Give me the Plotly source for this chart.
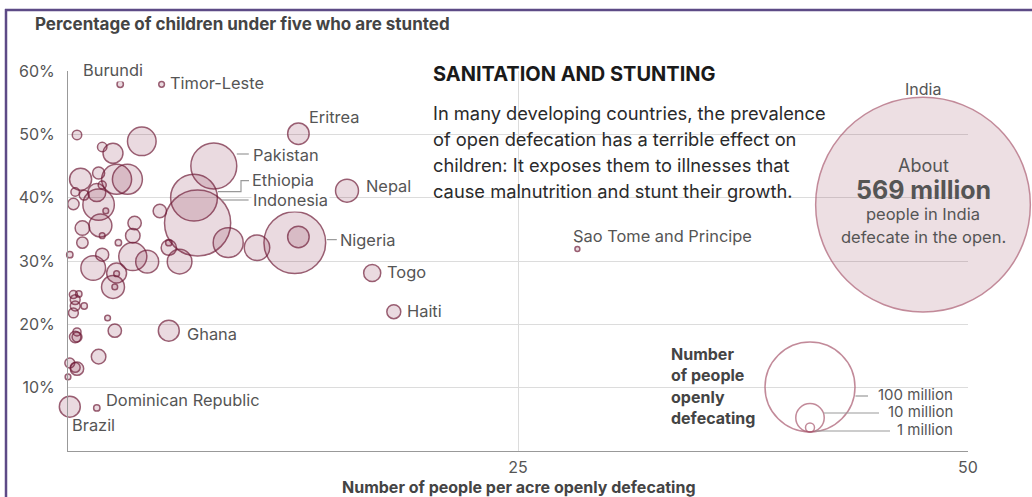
import plotly.graph_objects as go

# ---- data ----
country = ["Burundi", "Timor-Leste", "Eritrea", "Pakistan", "Ethiopia", "Indonesia",
           "Nepal", "Nigeria", "Togo", "Haiti", "Sao Tome and Principe", "Ghana",
           "Dominican Republic", "Brazil", "India",
           "", "", "", "", "", "", "", "", "", "", "", "", "", "", "", "", "", "",
           "", "", "", "", "", "", "", "", "", "", "", "", "", "", "", "", "", "",
           "", "", "", "", "", "", "", "", "", "", "", "", "", "", "", "", "", ""]
per_acre = [2.9, 5.2, 12.8, 8.1, 7.0, 7.2,
            15.5, 12.6, 16.9, 18.1, 28.3, 5.6,
            1.6, 0.1, 47.5,
            12.8, 0.5, 4.1, 1.9, 2.5, 0.7, 1.7, 2.7, 3.3, 1.9, 0.4, 0.9, 0.3,
            1.6, 1.7, 2.1, 5.1, 3.7, 1.8, 0.8, 1.9, 0.8, 3.6, 2.8, 0.1, 1.9,
            3.6, 4.4, 1.4, 2.7, 2.7, 2.5, 2.6, 5.6, 5.6, 6.2, 8.9, 10.5, 0.3,
            0.6, 0.4, 0.4, 0.9, 0.3, 2.2, 2.6, 0.5, 0.4, 0.5, 1.7, 0.1, 0.5,
            0.4, 0.0, 0.1, 0.1, 0.2, 0.1]
stunted = [57.9, 57.9, 50.1, 45.0, 40.0, 36.0,
           41.1, 32.9, 28.1, 22.0, 31.9, 19.0,
           6.8, 7.0, 38.9,
           33.8, 49.9, 48.9, 48.0, 47.0, 42.9, 43.9, 42.9, 42.9, 42.0, 40.9, 40.4, 39.0,
           40.8, 38.9, 37.9, 37.9, 36.0, 35.6, 35.2, 34.0, 32.9, 34.0, 32.9, 31.0, 31.0,
           30.7, 29.9, 28.9, 28.1, 28.0, 25.9, 25.9, 32.9, 32.1, 29.9, 32.9, 32.1, 24.7,
           24.8, 23.9, 22.9, 22.9, 21.8, 21.0, 19.0, 18.8, 18.0, 18.0, 14.9, 13.9, 13.0,
           13.2, 11.7, 10.9, 10.0, 9.1, 7.8]
defecating_m = [0.5, 0.4, 5.7, 26, 27, 54,
                6.5, 47, 3.6, 2.4, 0.3, 5.4,
                0.5, 5.4, 569,
                5.7, 1.1, 10.1, 1.1, 4.9, 6.0, 1.8, 11.1, 11.1, 0.8, 0.9, 1.2, 1.6,
                4.0, 12.2, 0.4, 2.2, 2.2, 6.5, 2.6, 0.4, 1.6, 2.6, 0.5, 0.5, 2.1,
                9.7, 6.5, 7.5, 4.9, 0.4, 6.5, 0.4, 0.5, 2.9, 7.5, 11.1, 8.0, 0.8,
                0.5, 1.2, 1.2, 0.5, 1.2, 0.4, 2.2, 0.8, 1.6, 1.2, 2.6, 1.2, 2.2,
                1.2, 0.4, 0.3, 0.4, 9.7, 1.2]

legend_values = [100, 10, 1]
legend_labels = ["100 million", "10 million", "1 million"]

x_ticks = [25, 50]
y_ticks = [10, 20, 30, 40, 50, 60]

# ---- geometry ----
W, H = 1032, 497
ML, MR, MT, MB = 68, 64, 71, 46
PW, PH = W - ML - MR, H - MT - MB
XMAX, YMAX = 50, 60

def paper_x(px):
    return (px - ML) / PW

def paper_y(py):
    return (H - MB - py) / PH

def data_x(px):
    return (px - ML) / PW * XMAX

def data_y(py):
    return (H - MB - py) / PH * YMAX

def bubble(m):
    # diameter in px, area proportional to people (100 million -> 90 px)
    return 9 * m ** 0.5

FONT = "Inter"
MAROON = "#6e1a36"
ROSE = "#a9596f"

fig = go.Figure()

others = [i for i, c in enumerate(country) if c != "India"]
fig.add_trace(go.Scatter(
    x=[per_acre[i] for i in others],
    y=[stunted[i] for i in others],
    mode="markers",
    marker=dict(size=[bubble(defecating_m[i]) for i in others], sizemode="diameter",
                color="rgba(125,20,55,0.22)", line=dict(color=MAROON, width=1.5)),
    cliponaxis=False, hoverinfo="skip", showlegend=False))

ind = country.index("India")
fig.add_trace(go.Scatter(
    x=[per_acre[ind]], y=[stunted[ind]], mode="markers",
    marker=dict(size=[bubble(defecating_m[ind])], sizemode="diameter",
                color="rgba(130,30,60,0.2)", line=dict(color=ROSE, width=1.5)),
    cliponaxis=False, hoverinfo="skip", showlegend=False))

# size key: circles sit on a common bottom point
key_cx, key_bottom = 810, 432
key_sizes = [bubble(v) for v in legend_values]
fig.add_trace(go.Scatter(
    x=[data_x(key_cx)] * 3,
    y=[data_y(key_bottom - s / 2) for s in key_sizes],
    mode="markers",
    marker=dict(size=key_sizes, sizemode="diameter", color="rgba(0,0,0,0)",
                line=dict(color=ROSE, width=1.5)),
    cliponaxis=False, hoverinfo="skip", showlegend=False))

shapes = []
# white patches that break the grid behind text blocks
for x0, x1, y0, y1 in [(423, 727, 61, 85), (423, 797, 85, 205), (662, 966, 340, 446)]:
    shapes.append(dict(type="rect", xref="paper", yref="paper", layer="between",
                       x0=paper_x(x0), x1=paper_x(x1), y0=paper_y(y1), y1=paper_y(y0),
                       fillcolor="white", line=dict(width=0)))

# leader lines, pixel offsets from the bubble centre
leaders = {
    "Pakistan": "M23,12 L35,12",
    "Ethiopia": "M55,17 L47,17 L47,6 L24,6",
    "Indonesia": "M24,23 L51,23",
    "Nigeria": "M32,3 L42,3",
}
for name, path in leaders.items():
    i = country.index(name)
    shapes.append(dict(type="path", path=path, xsizemode="pixel", ysizemode="pixel",
                       xanchor=per_acre[i], yanchor=stunted[i], xref="x", yref="y",
                       line=dict(color="#999", width=1.2)))

# key leaders
key_label_y = [394, 411, 429]
key_line_end = [868, 879, 890]
for s, ly, le in zip(key_sizes, key_label_y, key_line_end):
    r = s / 2
    cy = key_bottom - r
    dy = ly - cy
    x0 = key_cx + max(r * r - dy * dy, 0) ** 0.5
    shapes.append(dict(type="line", xref="paper", yref="paper",
                       x0=paper_x(x0 + 1), x1=paper_x(le), y0=paper_y(ly + 2), y1=paper_y(ly + 2),
                       line=dict(color="#999", width=1.2)))

# outer purple frame
shapes.append(dict(type="line", xref="paper", yref="paper", x0=paper_x(6), x1=paper_x(6),
                   y0=paper_y(9), y1=paper_y(H + 5), line=dict(color="#5d4a86", width=2.5)))
shapes.append(dict(type="line", xref="paper", yref="paper", x0=paper_x(5), x1=paper_x(W + 5),
                   y0=paper_y(10), y1=paper_y(10), line=dict(color="#5d4a86", width=2.5)))

annotations = []
LBL = 16.4
label_pos = {
    "Burundi": (-39, 14, "left"),
    "Timor-Leste": (6, 1, "left"),
    "Eritrea": (9, 17, "left"),
    "Pakistan": (37, 11, "left"),
    "Ethiopia": (56, 18, "left"),
    "Indonesia": (53, 23, "left"),
    "Nepal": (17, 5, "left"),
    "Nigeria": (43, 3, "left"),
    "Togo": (13, 1, "left"),
    "Haiti": (11, 1, "left"),
    "Sao Tome and Principe": (-6, 13, "left"),
    "Ghana": (16, -3, "left"),
    "Dominican Republic": (7, 8, "left"),
    "Brazil": (0, -18, "left"),
    "India": (0, 116, "center"),
}
for name, (dx, dy, anc) in label_pos.items():
    i = country.index(name)
    annotations.append(dict(x=per_acre[i], y=stunted[i], text=name, showarrow=False,
                            xanchor=anc, yanchor="middle", xshift=dx, yshift=dy,
                            bgcolor="white" if name in ("Burundi", "Indonesia") else None,
                            borderpad=1,
                            font=dict(family=FONT, size=LBL if name != "India" else 16,
                                      color="#555")))

# India callout text
for txt, dy, size in [("About", 39, 18), ("<b>569 million</b>", 15, 25),
                      ("people in India", -9, 16.5), ("defecate in the open.", -32, 16.5)]:
    annotations.append(dict(x=per_acre[ind], y=stunted[ind], text=txt, showarrow=False,
                            xanchor="center", yanchor="middle", yshift=dy,
                            font=dict(family=FONT, size=size, color="#555")))

# headline block
annotations.append(dict(xref="paper", yref="paper", x=paper_x(431), y=paper_y(74),
                        text="<b>SANITATION AND STUNTING</b>", showarrow=False,
                        xanchor="left", yanchor="middle",
                        font=dict(family=FONT, size=20, color="#1a1a1a")))
body = ["In many developing countries, the prevalence",
        "of open defecation has a terrible effect on",
        "children: It exposes them to illnesses that",
        "cause malnutrition and stunt their growth."]
for k, line in enumerate(body):
    annotations.append(dict(xref="paper", yref="paper", x=paper_x(431), y=paper_y(113 + 26 * k),
                            text=line, showarrow=False, xanchor="left", yanchor="middle",
                            font=dict(family=FONT, size=18.3, color="#2a2a2a")))

# key text
for k, line in enumerate(["Number", "of people", "openly", "defecating"]):
    annotations.append(dict(xref="paper", yref="paper", x=paper_x(669), y=paper_y(354 + 21.3 * k),
                            text="<b>" + line + "</b>", showarrow=False,
                            xanchor="left", yanchor="middle",
                            font=dict(family=FONT, size=16, color="#444")))
for lab, ly in zip(legend_labels, key_label_y):
    annotations.append(dict(xref="paper", yref="paper", x=paper_x(955), y=paper_y(ly),
                            text=lab, showarrow=False, xanchor="right", yanchor="middle",
                            font=dict(family=FONT, size=15, color="#555")))

# axis titles
annotations.append(dict(xref="paper", yref="paper", x=paper_x(33), y=paper_y(24),
                        text="<b>Percentage of children under five who are stunted</b>",
                        showarrow=False, xanchor="left", yanchor="middle",
                        font=dict(family=FONT, size=17, color="#444")))
annotations.append(dict(xref="paper", yref="paper", x=paper_x(519), y=paper_y(487),
                        text="<b>Number of people per acre openly defecating</b>",
                        showarrow=False, xanchor="center", yanchor="middle",
                        font=dict(family=FONT, size=16, color="#444")))

fig.update_layout(
    width=W, height=H,
    margin=dict(l=ML, r=MR, t=MT, b=MB),
    paper_bgcolor="white", plot_bgcolor="white",
    shapes=shapes, annotations=annotations,
    xaxis=dict(range=[0, XMAX], tickvals=x_ticks, showgrid=True, gridcolor="#dcdcdc",
               gridwidth=1, zeroline=False, showline=True, linecolor="#999", linewidth=1,
               ticks="", ticklabelstandoff=2,
               tickfont=dict(family=FONT, size=16, color="#555")),
    yaxis=dict(range=[0, YMAX], tickvals=y_ticks, ticktext=[f"{v}%" for v in y_ticks],
               showgrid=True, gridcolor="#dcdcdc", gridwidth=1, zeroline=False,
               showline=True, linecolor="#999", linewidth=1, ticks="", ticklabelstandoff=9,
               tickfont=dict(family=FONT, size=16, color="#555")),
)

fig.write_html("out.html", config={"displayModeBar": False},
               post_script="document.body.style.margin='0';")
